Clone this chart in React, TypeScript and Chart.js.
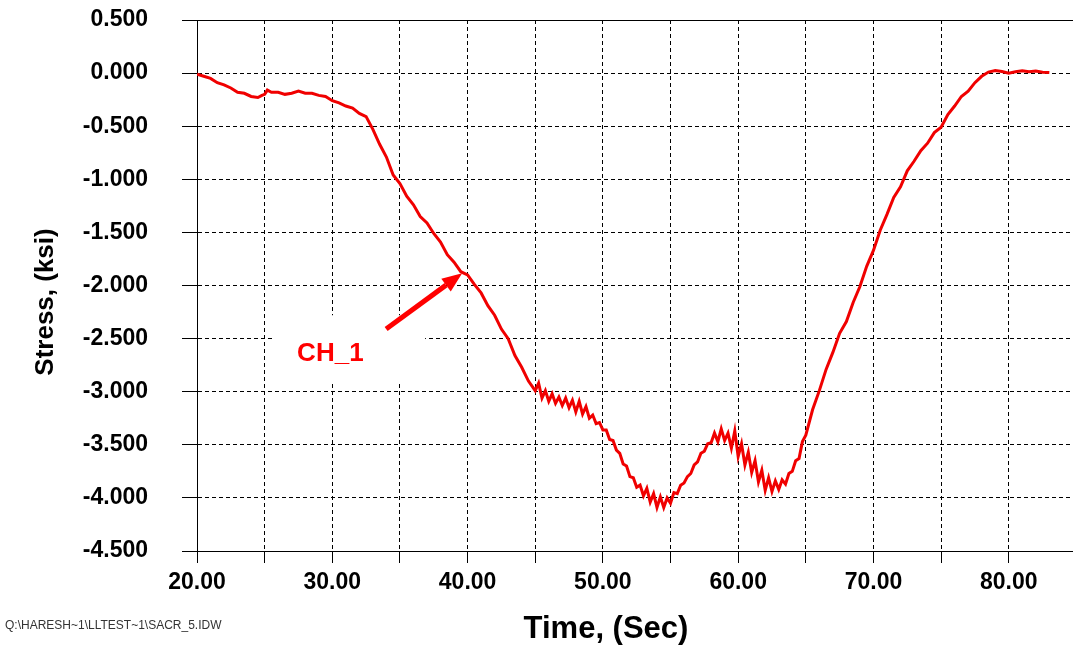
import { useEffect, useRef } from 'react';
import { Chart, registerables } from 'chart.js';

Chart.register(...registerables);

// ---- data ----
const timeSec: number[] = [
  20.0, 20.5, 21.0, 21.5, 22.0, 22.5, 23.0, 23.5, 24.0, 24.5,
  24.8, 25.0, 25.2, 25.5, 26.0, 26.5, 27.0, 27.5, 28.0, 28.5,
  29.0, 29.5, 30.0, 30.5, 31.0, 31.5, 32.0, 32.5, 33.0, 33.5,
  34.0, 34.5, 35.0, 35.5, 36.0, 36.5, 37.0, 37.5, 38.0, 38.5,
  39.0, 39.5, 40.0, 40.5, 41.0, 41.5, 42.0, 42.5, 43.0, 43.5,
  44.0, 44.5, 45.0, 45.25, 45.5, 45.75, 46.0, 46.25, 46.5, 46.75,
  47.0, 47.25, 47.5, 47.75, 48.0, 48.25, 48.5, 48.75, 49.0, 49.25,
  49.5, 49.75, 50.0, 50.25, 50.5, 50.75, 51.0, 51.25, 51.5, 51.75,
  52.0, 52.25, 52.5, 52.75, 53.0, 53.25, 53.5, 53.75, 54.0, 54.25,
  54.5, 54.75, 55.0, 55.25, 55.5, 55.75, 56.0, 56.25, 56.5, 56.75,
  57.0, 57.25, 57.5, 57.75, 58.0, 58.25, 58.5, 58.75, 59.0, 59.25,
  59.5, 59.75, 60.0, 60.25, 60.5, 60.75, 61.0, 61.25, 61.5, 61.75,
  62.0, 62.25, 62.5, 62.75, 63.0, 63.25, 63.5, 63.75, 64.0, 64.25,
  64.5, 64.75, 65.0, 65.5, 66.0, 66.5, 67.0, 67.5, 68.0, 68.5,
  69.0, 69.5, 70.0, 70.5, 71.0, 71.5, 72.0, 72.5, 73.0, 73.5,
  74.0, 74.5, 75.0, 75.5, 76.0, 76.5, 77.0, 77.5, 78.0, 78.5,
  79.0, 79.5, 80.0, 80.5, 81.0, 81.5, 82.0, 82.5, 83.0,
];

const stressKsi: number[] = [
  -0.01, -0.03, -0.05, -0.09, -0.11, -0.14, -0.18, -0.19, -0.22, -0.23,
  -0.21, -0.2, -0.16, -0.18, -0.18, -0.2, -0.19, -0.17, -0.19, -0.19,
  -0.21, -0.22, -0.26, -0.28, -0.31, -0.33, -0.38, -0.41, -0.53, -0.67,
  -0.79, -0.96, -1.04, -1.16, -1.24, -1.35, -1.41, -1.51, -1.59, -1.71,
  -1.78, -1.87, -1.9, -1.99, -2.07, -2.19, -2.28, -2.41, -2.5, -2.66,
  -2.77, -2.9, -2.99, -2.92, -3.06, -2.99, -3.09, -3.02, -3.11, -3.05,
  -3.13, -3.06, -3.15, -3.08, -3.19, -3.09, -3.21, -3.14, -3.25, -3.22,
  -3.3, -3.29, -3.36, -3.36, -3.45, -3.46, -3.55, -3.58, -3.68, -3.7,
  -3.8, -3.81, -3.9, -3.88, -3.98, -3.91, -4.04, -3.96, -4.09, -3.99,
  -4.09, -4.0, -4.05, -3.95, -3.96, -3.88, -3.86, -3.8, -3.77, -3.69,
  -3.66, -3.58, -3.56, -3.49, -3.48, -3.39, -3.47, -3.35, -3.46, -3.39,
  -3.53, -3.37, -3.61, -3.49, -3.69, -3.57, -3.76, -3.65, -3.85, -3.74,
  -3.93, -3.81, -3.94, -3.84, -3.92, -3.83, -3.87, -3.77, -3.75, -3.65,
  -3.63, -3.47, -3.41, -3.17, -2.99, -2.79, -2.63, -2.45, -2.34, -2.16,
  -2.01, -1.82, -1.67, -1.48, -1.33, -1.17, -1.07, -0.92, -0.83, -0.73,
  -0.66, -0.56, -0.51, -0.39, -0.31, -0.22, -0.17, -0.09, -0.03, 0.01,
  0.025, 0.015, 0.0, 0.012, 0.022, 0.012, 0.02, 0.008, 0.005,
];

const seriesLabel = 'CH_1';
const xTitle = 'Time, (Sec)';
const yTitle = 'Stress, (ksi)';
const footNote = 'Q:\\HARESH~1\\LLTEST~1\\SACR_5.IDW';
const xTickValues: number[] = [20, 25, 30, 35, 40, 45, 50, 55, 60, 65, 70, 75, 80];
const xTickLabels: string[] = ['20.00', '', '30.00', '', '40.00', '', '50.00', '', '60.00', '', '70.00', '', '80.00'];
const xMin = 20;
const xMax = 84.75;
const yMin = -4.5;
const yMax = 0.5;
const yStep = 0.5;

// annotation anchor points in data units
const arrowTip = { x: 39.6, y: -1.885 };
const arrowTail = { x: 33.98, y: -2.41 };
const labelPos = { x: 27.4, y: -2.71 };
const labelBox = { x1: 25.55, x2: 36.86, y1: -2.28, y2: -2.9 };

const FONT = '"Liberation Sans", Arial, Helvetica, sans-serif';

const overlayPlugin = {
  id: 'overlay',
  beforeDatasetsDraw(chart: any) {
    const ctx = chart.ctx;
    const xs = chart.scales.x;
    const ys = chart.scales.y;
    ctx.save();
    ctx.fillStyle = '#ffffff';
    const bx1 = xs.getPixelForValue(labelBox.x1);
    const bx2 = xs.getPixelForValue(labelBox.x2);
    const by1 = ys.getPixelForValue(labelBox.y1);
    const by2 = ys.getPixelForValue(labelBox.y2);
    ctx.fillRect(bx1, by1, bx2 - bx1, by2 - by1);
    ctx.restore();
  },
  afterDraw(chart: any) {
    const ctx = chart.ctx;
    const { left, top, right } = chart.chartArea;
    const xs = chart.scales.x;
    const ys = chart.scales.y;
    ctx.save();
    // solid top frame line
    ctx.strokeStyle = '#000';
    ctx.lineWidth = 1;
    ctx.setLineDash([]);
    ctx.beginPath();
    ctx.moveTo(left - 15, Math.round(top) + 0.5);
    ctx.lineTo(right, Math.round(top) + 0.5);
    ctx.stroke();

    // arrow
    const tx = xs.getPixelForValue(arrowTip.x);
    const ty = ys.getPixelForValue(arrowTip.y);
    const sx = xs.getPixelForValue(arrowTail.x);
    const sy = ys.getPixelForValue(arrowTail.y);
    const ang = Math.atan2(ty - sy, tx - sx);
    const headLen = 20;
    const headHalf = 8;
    const bx = tx - headLen * Math.cos(ang);
    const by = ty - headLen * Math.sin(ang);
    ctx.strokeStyle = '#ff0000';
    ctx.fillStyle = '#ff0000';
    ctx.lineWidth = 5;
    ctx.lineCap = 'butt';
    ctx.beginPath();
    ctx.moveTo(sx, sy);
    ctx.lineTo(bx, by);
    ctx.stroke();
    ctx.beginPath();
    ctx.moveTo(tx, ty);
    ctx.lineTo(bx + headHalf * Math.sin(ang), by - headHalf * Math.cos(ang));
    ctx.lineTo(bx - headHalf * Math.sin(ang), by + headHalf * Math.cos(ang));
    ctx.closePath();
    ctx.fill();

    // series label
    ctx.font = `bold 26px ${FONT}`;
    ctx.textAlign = 'left';
    ctx.textBaseline = 'alphabetic';
    ctx.fillText(seriesLabel, xs.getPixelForValue(labelPos.x), ys.getPixelForValue(labelPos.y));

    // axis titles
    ctx.fillStyle = '#000';
    ctx.font = `bold 31px ${FONT}`;
    ctx.textAlign = 'center';
    ctx.textBaseline = 'middle';
    ctx.fillText(xTitle, 606, 629);

    ctx.save();
    ctx.translate(46, 302);
    ctx.rotate(-Math.PI / 2);
    ctx.font = `bold 26px ${FONT}`;
    ctx.fillText(yTitle, 0, 0);
    ctx.restore();

    // footnote
    ctx.fillStyle = '#333';
    ctx.font = `12px ${FONT}`;
    ctx.textAlign = 'left';
    ctx.textBaseline = 'middle';
    ctx.fillText(footNote, 5, 626);
    ctx.restore();
  },
};

export default function App() {
  const canvasRef = useRef<HTMLCanvasElement | null>(null);

  useEffect(() => {
    if (!canvasRef.current) return;
    const points = timeSec.map((t, i) => ({ x: t, y: stressKsi[i] }));
    const chart = new Chart(canvasRef.current, {
      type: 'line',
      data: {
        datasets: [
          {
            label: seriesLabel,
            data: points,
            borderColor: '#f00000',
            backgroundColor: '#f00000',
            borderWidth: 3,
            pointRadius: 0,
            tension: 0,
            fill: false,
          },
        ],
      },
      options: {
        animation: false,
        responsive: false,
        maintainAspectRatio: false,
        layout: { padding: { top: 20, left: 0, right: 0, bottom: 0 } },
        plugins: {
          legend: { display: false },
          tooltip: { enabled: false },
          title: { display: false },
        },
        scales: {
          x: {
            type: 'linear',
            min: xMin,
            max: xMax,
            afterFit: (s: any) => {
              s.height = 94;
              s.paddingLeft = 0;
              s.paddingRight = 0;
            },
            afterBuildTicks: (s: any) => {
              s.ticks = xTickValues.map((v) => ({ value: v }));
            },
            ticks: {
              autoSkip: false,
              maxRotation: 0,
              minRotation: 0,
              color: '#000',
              padding: 6,
              font: { family: FONT, size: 23, weight: 'bold' },
              callback: (v: any) => {
                const i = xTickValues.indexOf(Number(v));
                return i >= 0 ? xTickLabels[i] : '';
              },
            },
            grid: {
              color: '#000',
              lineWidth: 1,
              tickLength: 12,
              tickBorderDash: [],
            },
            border: { color: '#000', width: 1, dash: [4, 3] },
          },
          y: {
            type: 'linear',
            min: yMin,
            max: yMax,
            afterFit: (s: any) => {
              s.width = 197;
              s.paddingTop = 0;
              s.paddingBottom = 0;
            },
            ticks: {
              stepSize: yStep,
              autoSkip: false,
              color: '#000',
              padding: 34,
              font: { family: FONT, size: 23, weight: 'bold' },
              callback: (v: any) => Number(v).toFixed(3),
            },
            grid: {
              color: '#000',
              lineWidth: 1,
              tickLength: 15,
              tickBorderDash: [],
            },
            border: { color: '#000', width: 1, dash: [4, 3] },
          },
        },
      },
      plugins: [overlayPlugin],
    });
    return () => chart.destroy();
  }, []);

  return (
    <div style={{ position: 'absolute', left: 0, top: 0, width: 1073, height: 645, background: '#fff' }}>
      <canvas ref={canvasRef} width={1073} height={645} style={{ width: 1073, height: 645, display: 'block' }} />
    </div>
  );
}
